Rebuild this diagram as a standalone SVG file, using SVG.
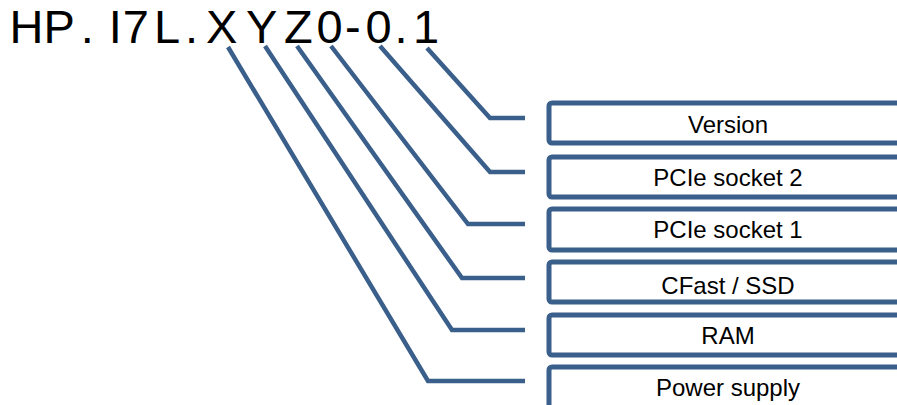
<svg xmlns="http://www.w3.org/2000/svg" width="897" height="405" viewBox="0 0 897 405">
<style>
.box{fill:#ffffff;stroke:#3A5F8B;stroke-width:5}
.conn{fill:none;stroke:#3A5F8B;stroke-width:4.5;stroke-linejoin:miter;stroke-linecap:butt}
.lbl{font-family:"Liberation Sans",Arial,sans-serif;font-size:24px;fill:#000000;text-anchor:middle}
.title{font-family:"Liberation Sans",Arial,sans-serif;font-size:47px;fill:#000000}
</style>
<rect width="897" height="405" fill="#ffffff"/>
<g id="title">
<text class="title" x="9.4 43.5 80.8 95 108.7 122.7 154 185 206 246 284 316.5 345 365.5 394.5 413" y="43">HP. I7L.XYZ0-0.1</text>
</g>
<g id="connectors">
<polyline class="conn" points="228,47 428,381 525,381"/>
<polyline class="conn" points="265,46 452,330 525,330"/>
<polyline class="conn" points="297,46 462,278 525,278"/>
<polyline class="conn" points="331,46 468,224 525,224"/>
<polyline class="conn" points="380,46 490,172 525,172"/>
<polyline class="conn" points="427,48 490,118 525,118"/>
</g>
<g id="version">
<rect class="box" x="549" y="103" width="360" height="40" rx="3"/>
<text class="lbl" x="728" y="133">Version</text>
</g>
<g id="pcie2">
<rect class="box" x="549" y="157" width="360" height="40" rx="3"/>
<text class="lbl" x="728" y="186">PCIe socket 2</text>
</g>
<g id="pcie1">
<rect class="box" x="549" y="209" width="360" height="41" rx="3"/>
<text class="lbl" x="728" y="238">PCIe socket 1</text>
</g>
<g id="cfast">
<rect class="box" x="549" y="262" width="360" height="40" rx="3"/>
<text class="lbl" x="728" y="294">CFast / SSD</text>
</g>
<g id="ram">
<rect class="box" x="549" y="315" width="360" height="40" rx="3"/>
<text class="lbl" x="728" y="344">RAM</text>
</g>
<g id="power">
<rect class="box" x="549" y="367" width="360" height="41" rx="3"/>
<text class="lbl" x="728" y="396">Power supply</text>
</g>
</svg>
